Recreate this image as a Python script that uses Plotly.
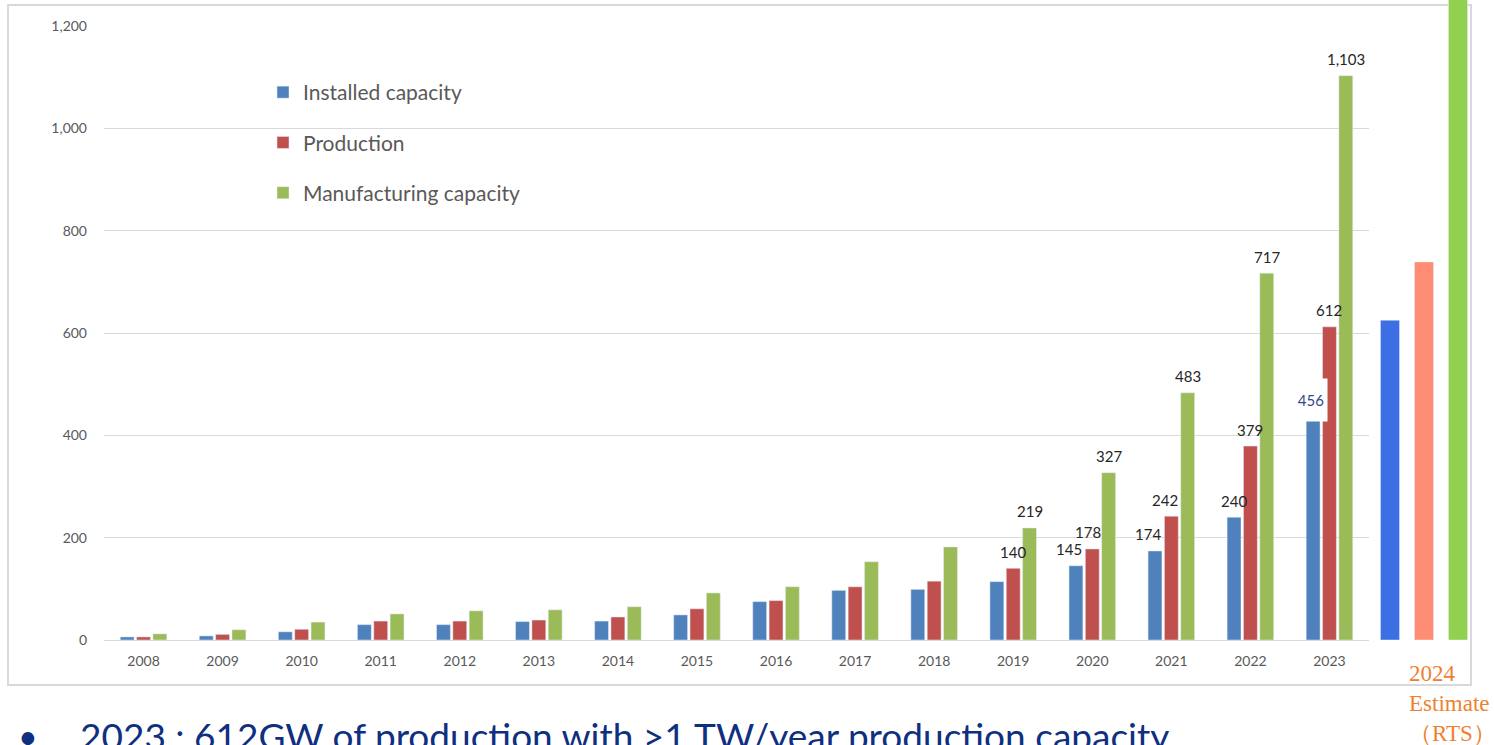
import plotly.graph_objects as go

# Annual PV figures (GW)
years = [str(y) for y in range(2008, 2024)]
installed = [6, 8, 16, 30, 30, 36, 37, 49, 75, 97, 99, 114, 145, 174, 240, 456]
production = [6, 11, 21, 37, 37, 39, 45, 61, 77, 104, 115, 140, 178, 242, 379, 612]
manufacturing = [12, 20, 35, 51, 57, 59, 65, 92, 104, 153, 182, 219, 327, 483, 717, 1103]

# 2024 estimate (RTS)
est_names = ["Installed capacity", "Production", "Manufacturing capacity"]
est_values = [625, 739, 1400]

# First year that carries a value label, per series
label_from = [2020, 2019, 2019]

W, H = 1494, 745
FONT = "Lato"
grid = "#D9D9D9"

# bar slot offset in px for each series within a year group
slot_px = [-16.3, 0.0, 16.3]
# small horizontal nudges for crowded labels (series index, year) -> px
nudge = {(0, "2020"): -7, (1, "2020"): -4, (0, "2021"): -7, (1, "2021"): -6}


def px_x(p):
    return p / W


def px_y(p):
    return 1 - p / H


series = [
    ("Installed capacity", installed, "#4F81BD"),
    ("Production", production, "#C0504D"),
    ("Manufacturing capacity", manufacturing, "#9BBB59"),
]

fig = go.Figure()
for i, (name, vals, color) in enumerate(series):
    fig.add_trace(go.Bar(
        x=years, y=vals, name=name, marker_color=color,
        legendgroup=f"g{i}", xaxis="x", yaxis="y",
    ))

fig.add_trace(go.Bar(
    x=est_names, y=est_values, marker_color=["#3B6FE3", "#FF8C75", "#92D050"],
    width=0.56, showlegend=False, xaxis="x2", yaxis="y2",
))

fig.update_layout(
    width=W, height=H,
    margin=dict(l=0, r=0, t=0, b=0, autoexpand=False),
    paper_bgcolor="white", plot_bgcolor="white",
    barmode="group", bargap=0.38, bargroupgap=0.15,
    font=dict(family=FONT, color="#595959"),
    xaxis=dict(
        domain=[px_x(104), px_x(1369)], type="category",
        range=[-0.5, len(years) - 0.5],
        showgrid=False, showline=True, linecolor=grid, linewidth=1,
        tickfont=dict(family=FONT, size=14, color="#595959"),
        ticks="", ticklabelstandoff=8,
    ),
    yaxis=dict(
        domain=[px_y(640), px_y(26)], range=[0, 1200], dtick=200,
        tickformat=",d", showgrid=True, gridcolor=grid, gridwidth=1,
        zeroline=True, zerolinecolor=grid, zerolinewidth=1,
        showline=False, ticks="", ticklabelstandoff=16,
        tickfont=dict(family=FONT, size=14, color="#595959"),
    ),
    xaxis2=dict(
        domain=[px_x(1373), px_x(1475)], type="category", anchor="y2",
        range=[-0.5, 2.5],
        showgrid=False, showline=False, showticklabels=False, ticks="",
    ),
    yaxis2=dict(
        domain=[px_y(640), 1.0], range=[0, 1200 * 640 / 614], anchor="x2",
        showgrid=False, zeroline=False, showline=False, showticklabels=False, ticks="",
    ),
    legend=dict(
        x=px_x(263), y=px_y(72), xanchor="left", yanchor="top",
        font=dict(family=FONT, size=21, color="#595959"),
        traceorder="grouped", tracegroupgap=20, bgcolor="rgba(0,0,0,0)",
    ),
)

# Chart frame
fig.add_shape(type="rect", xref="paper", yref="paper",
              x0=px_x(8), x1=px_x(1471), y0=px_y(685), y1=px_y(5),
              line=dict(color=grid, width=2), layer="below")

# Value labels above the recent bars
for i, (name, vals, color) in enumerate(series):
    for j, (yr, v) in enumerate(zip(years, vals)):
        if int(yr) < label_from[i]:
            continue
        if i == 0 and yr == years[-1]:
            continue  # drawn separately below
        fig.add_annotation(
            x=j, y=v, xref="x", yref="y", text=f"{v:,}", showarrow=False,
            xshift=slot_px[i] + nudge.get((i, yr), 0), yshift=16.5,
            font=dict(family=FONT, size=15, color="#262626"),
        )

# 2023 installed label on a white patch
fig.add_annotation(
    x=len(years) - 1, y=installed[-1], xref="x", yref="y", text=f"{installed[-1]:,}",
    showarrow=False, xshift=-18, yshift=7, width=30, height=40, bgcolor="white",
    font=dict(family=FONT, size=15, color="#2F4A8A"),
)

# 2024 estimate caption
fig.add_annotation(
    x=px_x(1407), y=px_y(659), xref="paper", yref="paper", xanchor="left", yanchor="top",
    text="2024<br>Estimate<br>（RTS）", showarrow=False, align="left",
    font=dict(family="Liberation Serif", size=23, color="#F08030"),
)

# Bullet line beneath the chart
fig.add_annotation(
    x=px_x(16), y=px_y(713), xref="paper", yref="paper", xanchor="left", yanchor="top",
    text="•", showarrow=False, font=dict(family=FONT, size=34, color="#0F2F80"),
)
fig.add_annotation(
    x=px_x(78), y=px_y(711), xref="paper", yref="paper", xanchor="left", yanchor="top",
    text="2023 : 612GW of production with >1 TW/year production capacity",
    showarrow=False, font=dict(family=FONT, size=37, color="#0F2F80"),
)

fig.write_html("out.html")
